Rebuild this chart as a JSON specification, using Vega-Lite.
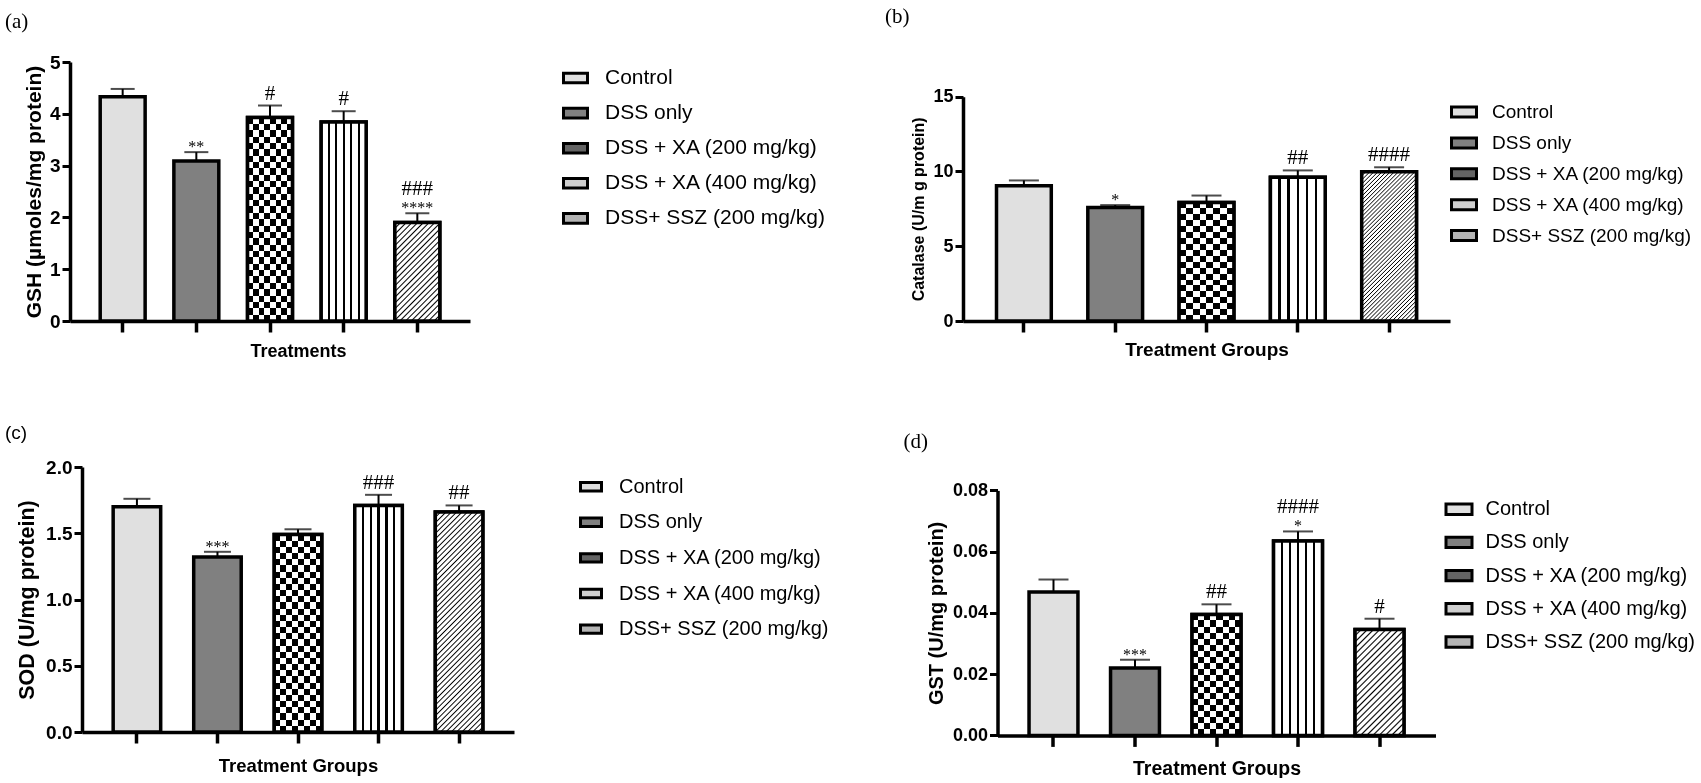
{
  "$schema": "https://vega.github.io/schema/vega-lite/v6.json",
  "background": "white",
  "padding": {"left": 5, "top": 5, "right": 0, "bottom": 0},
  "datasets": {
    "gsh": [
      {"group": "Control", "mean": 4.33, "upper": 4.48, "star": "", "hash": ""},
      {"group": "DSS only", "mean": 3.09, "upper": 3.26, "star": "**", "hash": ""},
      {"group": "DSS + XA (200 mg/kg)", "mean": 3.93, "upper": 4.16, "star": "", "hash": "#"},
      {"group": "DSS + XA (400 mg/kg)", "mean": 3.84, "upper": 4.05, "star": "", "hash": "#"},
      {"group": "DSS+ SSZ (200 mg/kg)", "mean": 1.90, "upper": 2.08, "star": "****", "hash": "###"}
    ],
    "cat": [
      {"group": "Control", "mean": 9.04, "upper": 9.40, "star": "", "hash": ""},
      {"group": "DSS only", "mean": 7.59, "upper": 7.75, "star": "*", "hash": ""},
      {"group": "DSS + XA (200 mg/kg)", "mean": 7.92, "upper": 8.39, "star": "", "hash": ""},
      {"group": "DSS + XA (400 mg/kg)", "mean": 9.62, "upper": 10.07, "star": "", "hash": "##"},
      {"group": "DSS+ SSZ (200 mg/kg)", "mean": 9.98, "upper": 10.28, "star": "", "hash": "####"}
    ],
    "sod": [
      {"group": "Control", "mean": 1.70, "upper": 1.76, "star": "", "hash": ""},
      {"group": "DSS only", "mean": 1.32, "upper": 1.36, "star": "***", "hash": ""},
      {"group": "DSS + XA (200 mg/kg)", "mean": 1.49, "upper": 1.53, "star": "", "hash": ""},
      {"group": "DSS + XA (400 mg/kg)", "mean": 1.71, "upper": 1.79, "star": "", "hash": "###"},
      {"group": "DSS+ SSZ (200 mg/kg)", "mean": 1.66, "upper": 1.71, "star": "", "hash": "##"}
    ],
    "gst": [
      {"group": "Control", "mean": 0.0468, "upper": 0.0509, "star": "", "hash": ""},
      {"group": "DSS only", "mean": 0.0220, "upper": 0.0247, "star": "***", "hash": ""},
      {"group": "DSS + XA (200 mg/kg)", "mean": 0.0395, "upper": 0.0428, "star": "", "hash": "##"},
      {"group": "DSS + XA (400 mg/kg)", "mean": 0.0635, "upper": 0.0666, "star": "*", "hash": "####"},
      {"group": "DSS+ SSZ (200 mg/kg)", "mean": 0.0346, "upper": 0.0381, "star": "", "hash": "#"}
    ]
  },
  "spacing": 63,
  "resolve": {"scale": {"fill": "independent"}, "legend": {"fill": "independent"}},
  "vconcat": [
    {
      "spacing": 60,
      "resolve": {"scale": {"fill": "independent"}, "legend": {"fill": "independent"}},
      "hconcat": [
        {
          "width": 400, "height": 259,
          "title": {"text": "(a)", "anchor": "start", "frame": "group", "dx": -65, "offset": 21, "font": "Liberation Serif", "fontSize": 21, "fontWeight": "normal"},
          "data": {"name": "gsh"},
          "encoding": {
            "x": {"field": "group", "type": "nominal", "sort": null,
              "scale": {"domain": ["Control", "DSS only", "DSS + XA (200 mg/kg)", "DSS + XA (400 mg/kg)", "DSS+ SSZ (200 mg/kg)"], "paddingInner": 0.39, "paddingOuter": 0.41},
              "axis": {"labels": false, "title": "Treatments", "titleFontSize": 18, "titlePadding": 9, "titleX": 228, "domainWidth": 3.5, "tickWidth": 3.5, "tickSize": 11}}
          },
          "layer": [
            {
              "mark": {"type": "bar", "stroke": "black", "strokeWidth": 3.5},
              "encoding": {
                "y": {"field": "mean", "type": "quantitative", "scale": {"domain": [0, 5], "nice": false},
                  "axis": {"title": "GSH (µmoles/mg protein)", "values": [0, 1, 2, 3, 4, 5], "format": "d", "labelFontSize": 19, "titleFontSize": 21, "domainWidth": 3.5, "tickWidth": 3, "tickSize": 8, "labelPadding": 2, "titlePadding": 5}},
                "fill": {"field": "group", "type": "nominal",
                  "scale": {"domain": ["Control", "DSS only", "DSS + XA (200 mg/kg)", "DSS + XA (400 mg/kg)", "DSS+ SSZ (200 mg/kg)"], "range": ["#e0e0e0", "#808080", "#646464", "#cfcfcf", "#b4b4b4"]},
                  "legend": {"title": null, "legendX": 492, "legendY": 2.5, "symbolType": "M-1,-0.4H1V0.4H-1Z", "symbolSize": 576, "labelFontSize": 21, "labelLimit": 400, "rowPadding": 10.1, "labelOffset": 16,
                    "encode": {"symbols": {"update": {"stroke": {"value": "black"}, "strokeWidth": {"value": 3}}}}}}
              }
            },
            {
              "transform": [{"filter": "datum.group === 'DSS + XA (200 mg/kg)'"}],
              "mark": {"type": "bar", "strokeWidth": 0, "fill": {"gradient": "linear", "x1": 0, "y1": 0, "x2": 0, "y2": 1, "stops": [
                {"offset": 0, "color": "#fff"}, {"offset": 0.03125, "color": "#fff"}, {"offset": 0.03125, "color": "#000"}, {"offset": 0.0625, "color": "#000"},
                {"offset": 0.0625, "color": "#fff"}, {"offset": 0.09375, "color": "#fff"}, {"offset": 0.09375, "color": "#000"}, {"offset": 0.125, "color": "#000"},
                {"offset": 0.125, "color": "#fff"}, {"offset": 0.15625, "color": "#fff"}, {"offset": 0.15625, "color": "#000"}, {"offset": 0.1875, "color": "#000"},
                {"offset": 0.1875, "color": "#fff"}, {"offset": 0.21875, "color": "#fff"}, {"offset": 0.21875, "color": "#000"}, {"offset": 0.25, "color": "#000"},
                {"offset": 0.25, "color": "#fff"}, {"offset": 0.28125, "color": "#fff"}, {"offset": 0.28125, "color": "#000"}, {"offset": 0.3125, "color": "#000"},
                {"offset": 0.3125, "color": "#fff"}, {"offset": 0.34375, "color": "#fff"}, {"offset": 0.34375, "color": "#000"}, {"offset": 0.375, "color": "#000"},
                {"offset": 0.375, "color": "#fff"}, {"offset": 0.40625, "color": "#fff"}, {"offset": 0.40625, "color": "#000"}, {"offset": 0.4375, "color": "#000"},
                {"offset": 0.4375, "color": "#fff"}, {"offset": 0.46875, "color": "#fff"}, {"offset": 0.46875, "color": "#000"}, {"offset": 0.5, "color": "#000"},
                {"offset": 0.5, "color": "#fff"}, {"offset": 0.53125, "color": "#fff"}, {"offset": 0.53125, "color": "#000"}, {"offset": 0.5625, "color": "#000"},
                {"offset": 0.5625, "color": "#fff"}, {"offset": 0.59375, "color": "#fff"}, {"offset": 0.59375, "color": "#000"}, {"offset": 0.625, "color": "#000"},
                {"offset": 0.625, "color": "#fff"}, {"offset": 0.65625, "color": "#fff"}, {"offset": 0.65625, "color": "#000"}, {"offset": 0.6875, "color": "#000"},
                {"offset": 0.6875, "color": "#fff"}, {"offset": 0.71875, "color": "#fff"}, {"offset": 0.71875, "color": "#000"}, {"offset": 0.75, "color": "#000"},
                {"offset": 0.75, "color": "#fff"}, {"offset": 0.78125, "color": "#fff"}, {"offset": 0.78125, "color": "#000"}, {"offset": 0.8125, "color": "#000"},
                {"offset": 0.8125, "color": "#fff"}, {"offset": 0.84375, "color": "#fff"}, {"offset": 0.84375, "color": "#000"}, {"offset": 0.875, "color": "#000"},
                {"offset": 0.875, "color": "#fff"}, {"offset": 0.90625, "color": "#fff"}, {"offset": 0.90625, "color": "#000"}, {"offset": 0.9375, "color": "#000"},
                {"offset": 0.9375, "color": "#fff"}, {"offset": 0.96875, "color": "#fff"}, {"offset": 0.96875, "color": "#000"}, {"offset": 1, "color": "#000"}]}},
              "encoding": {"y": {"field": "mean", "type": "quantitative"}}
            },
            {
              "transform": [{"filter": "datum.group === 'DSS + XA (200 mg/kg)'"}],
              "mark": {"type": "bar", "strokeWidth": 0, "blend": "difference", "fill": {"gradient": "linear", "x1": 0, "y1": 0, "x2": 1, "y2": 0, "stops": [
                {"offset": 0, "color": "#fff"}, {"offset": 0.125, "color": "#fff"}, {"offset": 0.125, "color": "#000"}, {"offset": 0.25, "color": "#000"},
                {"offset": 0.25, "color": "#fff"}, {"offset": 0.375, "color": "#fff"}, {"offset": 0.375, "color": "#000"}, {"offset": 0.5, "color": "#000"},
                {"offset": 0.5, "color": "#fff"}, {"offset": 0.625, "color": "#fff"}, {"offset": 0.625, "color": "#000"}, {"offset": 0.75, "color": "#000"},
                {"offset": 0.75, "color": "#fff"}, {"offset": 0.875, "color": "#fff"}, {"offset": 0.875, "color": "#000"}, {"offset": 1, "color": "#000"}]}},
              "encoding": {"y": {"field": "mean", "type": "quantitative"}}
            },
            {
              "transform": [{"filter": "datum.group === 'DSS + XA (200 mg/kg)'"}],
              "mark": {"type": "bar", "fill": "transparent", "stroke": "black", "strokeWidth": 3.5},
              "encoding": {"y": {"field": "mean", "type": "quantitative"}}
            },
            {
              "transform": [{"filter": "datum.group === 'DSS + XA (400 mg/kg)' || datum.group === 'DSS+ SSZ (200 mg/kg)'"}],
              "mark": {"type": "bar", "stroke": "black", "strokeWidth": 3.5},
              "encoding": {
                "y": {"field": "mean", "type": "quantitative"},
                "fill": {
                  "condition": {"test": "datum.group === 'DSS + XA (400 mg/kg)'", "value": {"gradient": "linear", "x1": 0, "y1": 0, "x2": 1, "y2": 0, "stops": [
                        {"offset": 0, "color": "#fff"},
                        {"offset": 0.145, "color": "#fff"}, {"offset": 0.145, "color": "#000"}, {"offset": 0.189, "color": "#000"}, {"offset": 0.189, "color": "#fff"},
                        {"offset": 0.311, "color": "#fff"}, {"offset": 0.311, "color": "#000"}, {"offset": 0.355, "color": "#000"}, {"offset": 0.355, "color": "#fff"},
                        {"offset": 0.478, "color": "#fff"}, {"offset": 0.478, "color": "#000"}, {"offset": 0.522, "color": "#000"}, {"offset": 0.522, "color": "#fff"},
                        {"offset": 0.645, "color": "#fff"}, {"offset": 0.645, "color": "#000"}, {"offset": 0.689, "color": "#000"}, {"offset": 0.689, "color": "#fff"},
                        {"offset": 0.811, "color": "#fff"}, {"offset": 0.811, "color": "#000"}, {"offset": 0.855, "color": "#000"}, {"offset": 0.855, "color": "#fff"},
                        {"offset": 1, "color": "#fff"}]}},
                  "value": {"gradient": "linear", "x1": 0, "y1": 0, "x2": 0.554, "y2": 1.205, "stops": [
                        {"offset": 0, "color": "#000"}, {"offset": 0.01, "color": "#fff"}, {"offset": 0.03, "color": "#fff"},
                        {"offset": 0.04, "color": "#000"}, {"offset": 0.05, "color": "#fff"}, {"offset": 0.07, "color": "#fff"},
                        {"offset": 0.08, "color": "#000"}, {"offset": 0.09, "color": "#fff"}, {"offset": 0.11, "color": "#fff"},
                        {"offset": 0.12, "color": "#000"}, {"offset": 0.13, "color": "#fff"}, {"offset": 0.15, "color": "#fff"},
                        {"offset": 0.16, "color": "#000"}, {"offset": 0.17, "color": "#fff"}, {"offset": 0.19, "color": "#fff"},
                        {"offset": 0.20, "color": "#000"}, {"offset": 0.21, "color": "#fff"}, {"offset": 0.23, "color": "#fff"},
                        {"offset": 0.24, "color": "#000"}, {"offset": 0.25, "color": "#fff"}, {"offset": 0.27, "color": "#fff"},
                        {"offset": 0.28, "color": "#000"}, {"offset": 0.29, "color": "#fff"}, {"offset": 0.31, "color": "#fff"},
                        {"offset": 0.32, "color": "#000"}, {"offset": 0.33, "color": "#fff"}, {"offset": 0.35, "color": "#fff"},
                        {"offset": 0.36, "color": "#000"}, {"offset": 0.37, "color": "#fff"}, {"offset": 0.39, "color": "#fff"},
                        {"offset": 0.40, "color": "#000"}, {"offset": 0.41, "color": "#fff"}, {"offset": 0.43, "color": "#fff"},
                        {"offset": 0.44, "color": "#000"}, {"offset": 0.45, "color": "#fff"}, {"offset": 0.47, "color": "#fff"},
                        {"offset": 0.48, "color": "#000"}, {"offset": 0.49, "color": "#fff"}, {"offset": 0.51, "color": "#fff"},
                        {"offset": 0.52, "color": "#000"}, {"offset": 0.53, "color": "#fff"}, {"offset": 0.55, "color": "#fff"},
                        {"offset": 0.56, "color": "#000"}, {"offset": 0.57, "color": "#fff"}, {"offset": 0.59, "color": "#fff"},
                        {"offset": 0.60, "color": "#000"}, {"offset": 0.61, "color": "#fff"}, {"offset": 0.63, "color": "#fff"},
                        {"offset": 0.64, "color": "#000"}, {"offset": 0.65, "color": "#fff"}, {"offset": 0.67, "color": "#fff"},
                        {"offset": 0.68, "color": "#000"}, {"offset": 0.69, "color": "#fff"}, {"offset": 0.71, "color": "#fff"},
                        {"offset": 0.72, "color": "#000"}, {"offset": 0.73, "color": "#fff"}, {"offset": 0.75, "color": "#fff"},
                        {"offset": 0.76, "color": "#000"}, {"offset": 0.77, "color": "#fff"}, {"offset": 0.79, "color": "#fff"},
                        {"offset": 0.80, "color": "#000"}, {"offset": 0.81, "color": "#fff"}, {"offset": 0.83, "color": "#fff"},
                        {"offset": 0.84, "color": "#000"}, {"offset": 0.85, "color": "#fff"}, {"offset": 0.87, "color": "#fff"},
                        {"offset": 0.88, "color": "#000"}, {"offset": 0.89, "color": "#fff"}, {"offset": 0.91, "color": "#fff"},
                        {"offset": 0.92, "color": "#000"}, {"offset": 0.93, "color": "#fff"}, {"offset": 0.95, "color": "#fff"},
                        {"offset": 0.96, "color": "#000"}, {"offset": 0.97, "color": "#fff"}, {"offset": 0.99, "color": "#fff"},
                        {"offset": 1, "color": "#000"}]}
                }
              }
            },
            {"mark": {"type": "rule", "color": "black", "strokeWidth": 2},
              "encoding": {"y": {"field": "mean", "type": "quantitative"}, "y2": {"field": "upper"}}},
            {"mark": {"type": "tick", "color": "black", "thickness": 2, "size": 24},
              "encoding": {"y": {"field": "upper", "type": "quantitative"}}},
            {"mark": {"type": "text", "font": "Liberation Serif", "fontSize": 16, "baseline": "alphabetic", "color": "black", "dy": 0},
              "encoding": {"y": {"field": "upper", "type": "quantitative"}, "text": {"field": "star", "type": "nominal"}}},
            {"transform": [{"filter": "datum.star === ''"}],
              "mark": {"type": "text", "font": "Liberation Serif", "fontSize": 21, "baseline": "alphabetic", "color": "black", "dy": -6},
              "encoding": {"y": {"field": "upper", "type": "quantitative"}, "text": {"field": "hash", "type": "nominal"}}},
            {"transform": [{"filter": "datum.star !== ''"}],
              "mark": {"type": "text", "font": "Liberation Serif", "fontSize": 21, "baseline": "alphabetic", "color": "black", "dy": -18},
              "encoding": {"y": {"field": "upper", "type": "quantitative"}, "text": {"field": "hash", "type": "nominal"}}}
          ]
        },
        {
          "width": 487, "height": 259,
          "title": {"text": "(b)", "anchor": "start", "frame": "group", "dx": -78, "offset": 35.5, "font": "Liberation Serif", "fontSize": 21, "fontWeight": "normal"},
          "data": {"name": "cat"},
          "encoding": {
            "x": {"field": "group", "type": "nominal", "sort": null,
              "scale": {"domain": ["Control", "DSS only", "DSS + XA (200 mg/kg)", "DSS + XA (400 mg/kg)", "DSS+ SSZ (200 mg/kg)"], "paddingInner": 0.40, "paddingOuter": 0.367},
              "axis": {"labels": false, "title": "Treatment Groups", "titleFontSize": 19, "titlePadding": 7, "domainWidth": 3.5, "tickWidth": 3.5, "tickSize": 11}}
          },
          "layer": [
            {
              "mark": {"type": "bar", "stroke": "black", "strokeWidth": 3.5},
              "encoding": {
                "y": {"field": "mean", "type": "quantitative", "scale": {"domain": [0, 15], "range": [259, 34.7], "nice": false},
                  "axis": {"title": "Catalase (U/m g protein)", "values": [0, 5, 10, 15], "format": "d", "labelFontSize": 18, "titleFontSize": 16, "domainWidth": 3.5, "tickWidth": 3, "tickSize": 8, "labelPadding": 2, "titlePadding": 6}},
                "fill": {"field": "group", "type": "nominal",
                  "scale": {"domain": ["Control", "DSS only", "DSS + XA (200 mg/kg)", "DSS + XA (400 mg/kg)", "DSS+ SSZ (200 mg/kg)"], "range": ["#e0e0e0", "#808080", "#646464", "#cfcfcf", "#b4b4b4"]},
                  "legend": {"title": null, "legendX": 487, "legendY": 36, "symbolType": "M-1,-0.4H1V0.4H-1Z", "symbolSize": 625, "labelFontSize": 19, "labelLimit": 400, "rowPadding": 5.9, "labelOffset": 14,
                    "encode": {"symbols": {"update": {"stroke": {"value": "black"}, "strokeWidth": {"value": 3}}}}}}
              }
            },
            {
              "transform": [{"filter": "datum.group === 'DSS + XA (200 mg/kg)'"}],
              "mark": {"type": "bar", "strokeWidth": 0, "fill": {"gradient": "linear", "x1": 0, "y1": 0, "x2": 0, "y2": 1, "stops": [
                {"offset": 0, "color": "#fff"}, {"offset": 0.05, "color": "#fff"}, {"offset": 0.05, "color": "#000"}, {"offset": 0.1, "color": "#000"},
                {"offset": 0.1, "color": "#fff"}, {"offset": 0.15, "color": "#fff"}, {"offset": 0.15, "color": "#000"}, {"offset": 0.2, "color": "#000"},
                {"offset": 0.2, "color": "#fff"}, {"offset": 0.25, "color": "#fff"}, {"offset": 0.25, "color": "#000"}, {"offset": 0.3, "color": "#000"},
                {"offset": 0.3, "color": "#fff"}, {"offset": 0.35, "color": "#fff"}, {"offset": 0.35, "color": "#000"}, {"offset": 0.4, "color": "#000"},
                {"offset": 0.4, "color": "#fff"}, {"offset": 0.45, "color": "#fff"}, {"offset": 0.45, "color": "#000"}, {"offset": 0.5, "color": "#000"},
                {"offset": 0.5, "color": "#fff"}, {"offset": 0.55, "color": "#fff"}, {"offset": 0.55, "color": "#000"}, {"offset": 0.6, "color": "#000"},
                {"offset": 0.6, "color": "#fff"}, {"offset": 0.65, "color": "#fff"}, {"offset": 0.65, "color": "#000"}, {"offset": 0.7, "color": "#000"},
                {"offset": 0.7, "color": "#fff"}, {"offset": 0.75, "color": "#fff"}, {"offset": 0.75, "color": "#000"}, {"offset": 0.8, "color": "#000"},
                {"offset": 0.8, "color": "#fff"}, {"offset": 0.85, "color": "#fff"}, {"offset": 0.85, "color": "#000"}, {"offset": 0.9, "color": "#000"},
                {"offset": 0.9, "color": "#fff"}, {"offset": 0.95, "color": "#fff"}, {"offset": 0.95, "color": "#000"}, {"offset": 1, "color": "#000"}]}},
              "encoding": {"y": {"field": "mean", "type": "quantitative"}}
            },
            {
              "transform": [{"filter": "datum.group === 'DSS + XA (200 mg/kg)'"}],
              "mark": {"type": "bar", "strokeWidth": 0, "blend": "difference", "fill": {"gradient": "linear", "x1": 0, "y1": 0, "x2": 1, "y2": 0, "stops": [
                {"offset": 0, "color": "#fff"}, {"offset": 0.125, "color": "#fff"}, {"offset": 0.125, "color": "#000"}, {"offset": 0.25, "color": "#000"},
                {"offset": 0.25, "color": "#fff"}, {"offset": 0.375, "color": "#fff"}, {"offset": 0.375, "color": "#000"}, {"offset": 0.5, "color": "#000"},
                {"offset": 0.5, "color": "#fff"}, {"offset": 0.625, "color": "#fff"}, {"offset": 0.625, "color": "#000"}, {"offset": 0.75, "color": "#000"},
                {"offset": 0.75, "color": "#fff"}, {"offset": 0.875, "color": "#fff"}, {"offset": 0.875, "color": "#000"}, {"offset": 1, "color": "#000"}]}},
              "encoding": {"y": {"field": "mean", "type": "quantitative"}}
            },
            {
              "transform": [{"filter": "datum.group === 'DSS + XA (200 mg/kg)'"}],
              "mark": {"type": "bar", "fill": "transparent", "stroke": "black", "strokeWidth": 3.5},
              "encoding": {"y": {"field": "mean", "type": "quantitative"}}
            },
            {
              "transform": [{"filter": "datum.group === 'DSS + XA (400 mg/kg)' || datum.group === 'DSS+ SSZ (200 mg/kg)'"}],
              "mark": {"type": "bar", "stroke": "black", "strokeWidth": 3.5},
              "encoding": {
                "y": {"field": "mean", "type": "quantitative"},
                "fill": {
                  "condition": {"test": "datum.group === 'DSS + XA (400 mg/kg)'", "value": {"gradient": "linear", "x1": 0, "y1": 0, "x2": 1, "y2": 0, "stops": [
                        {"offset": 0, "color": "#fff"},
                        {"offset": 0.145, "color": "#fff"}, {"offset": 0.145, "color": "#000"}, {"offset": 0.189, "color": "#000"}, {"offset": 0.189, "color": "#fff"},
                        {"offset": 0.311, "color": "#fff"}, {"offset": 0.311, "color": "#000"}, {"offset": 0.355, "color": "#000"}, {"offset": 0.355, "color": "#fff"},
                        {"offset": 0.478, "color": "#fff"}, {"offset": 0.478, "color": "#000"}, {"offset": 0.522, "color": "#000"}, {"offset": 0.522, "color": "#fff"},
                        {"offset": 0.645, "color": "#fff"}, {"offset": 0.645, "color": "#000"}, {"offset": 0.689, "color": "#000"}, {"offset": 0.689, "color": "#fff"},
                        {"offset": 0.811, "color": "#fff"}, {"offset": 0.811, "color": "#000"}, {"offset": 0.855, "color": "#000"}, {"offset": 0.855, "color": "#fff"},
                        {"offset": 1, "color": "#fff"}]}},
                  "value": {"gradient": "linear", "x1": 0, "y1": 0, "x2": 0.441, "y2": 1.205, "stops": [
                        {"offset": 0, "color": "#000"}, {"offset": 0.005, "color": "#fff"}, {"offset": 0.015, "color": "#fff"},
                        {"offset": 0.02, "color": "#000"}, {"offset": 0.025, "color": "#fff"}, {"offset": 0.035, "color": "#fff"},
                        {"offset": 0.04, "color": "#000"}, {"offset": 0.045, "color": "#fff"}, {"offset": 0.055, "color": "#fff"},
                        {"offset": 0.06, "color": "#000"}, {"offset": 0.065, "color": "#fff"}, {"offset": 0.075, "color": "#fff"},
                        {"offset": 0.08, "color": "#000"}, {"offset": 0.085, "color": "#fff"}, {"offset": 0.095, "color": "#fff"},
                        {"offset": 0.10, "color": "#000"}, {"offset": 0.105, "color": "#fff"}, {"offset": 0.115, "color": "#fff"},
                        {"offset": 0.12, "color": "#000"}, {"offset": 0.125, "color": "#fff"}, {"offset": 0.135, "color": "#fff"},
                        {"offset": 0.14, "color": "#000"}, {"offset": 0.145, "color": "#fff"}, {"offset": 0.155, "color": "#fff"},
                        {"offset": 0.16, "color": "#000"}, {"offset": 0.165, "color": "#fff"}, {"offset": 0.175, "color": "#fff"},
                        {"offset": 0.18, "color": "#000"}, {"offset": 0.185, "color": "#fff"}, {"offset": 0.195, "color": "#fff"},
                        {"offset": 0.20, "color": "#000"}, {"offset": 0.205, "color": "#fff"}, {"offset": 0.215, "color": "#fff"},
                        {"offset": 0.22, "color": "#000"}, {"offset": 0.225, "color": "#fff"}, {"offset": 0.235, "color": "#fff"},
                        {"offset": 0.24, "color": "#000"}, {"offset": 0.245, "color": "#fff"}, {"offset": 0.255, "color": "#fff"},
                        {"offset": 0.26, "color": "#000"}, {"offset": 0.265, "color": "#fff"}, {"offset": 0.275, "color": "#fff"},
                        {"offset": 0.28, "color": "#000"}, {"offset": 0.285, "color": "#fff"}, {"offset": 0.295, "color": "#fff"},
                        {"offset": 0.30, "color": "#000"}, {"offset": 0.305, "color": "#fff"}, {"offset": 0.315, "color": "#fff"},
                        {"offset": 0.32, "color": "#000"}, {"offset": 0.325, "color": "#fff"}, {"offset": 0.335, "color": "#fff"},
                        {"offset": 0.34, "color": "#000"}, {"offset": 0.345, "color": "#fff"}, {"offset": 0.355, "color": "#fff"},
                        {"offset": 0.36, "color": "#000"}, {"offset": 0.365, "color": "#fff"}, {"offset": 0.375, "color": "#fff"},
                        {"offset": 0.38, "color": "#000"}, {"offset": 0.385, "color": "#fff"}, {"offset": 0.395, "color": "#fff"},
                        {"offset": 0.40, "color": "#000"}, {"offset": 0.405, "color": "#fff"}, {"offset": 0.415, "color": "#fff"},
                        {"offset": 0.42, "color": "#000"}, {"offset": 0.425, "color": "#fff"}, {"offset": 0.435, "color": "#fff"},
                        {"offset": 0.44, "color": "#000"}, {"offset": 0.445, "color": "#fff"}, {"offset": 0.455, "color": "#fff"},
                        {"offset": 0.46, "color": "#000"}, {"offset": 0.465, "color": "#fff"}, {"offset": 0.475, "color": "#fff"},
                        {"offset": 0.48, "color": "#000"}, {"offset": 0.485, "color": "#fff"}, {"offset": 0.495, "color": "#fff"},
                        {"offset": 0.50, "color": "#000"}, {"offset": 0.505, "color": "#fff"}, {"offset": 0.515, "color": "#fff"},
                        {"offset": 0.52, "color": "#000"}, {"offset": 0.525, "color": "#fff"}, {"offset": 0.535, "color": "#fff"},
                        {"offset": 0.54, "color": "#000"}, {"offset": 0.545, "color": "#fff"}, {"offset": 0.555, "color": "#fff"},
                        {"offset": 0.56, "color": "#000"}, {"offset": 0.565, "color": "#fff"}, {"offset": 0.575, "color": "#fff"},
                        {"offset": 0.58, "color": "#000"}, {"offset": 0.585, "color": "#fff"}, {"offset": 0.595, "color": "#fff"},
                        {"offset": 0.60, "color": "#000"}, {"offset": 0.605, "color": "#fff"}, {"offset": 0.615, "color": "#fff"},
                        {"offset": 0.62, "color": "#000"}, {"offset": 0.625, "color": "#fff"}, {"offset": 0.635, "color": "#fff"},
                        {"offset": 0.64, "color": "#000"}, {"offset": 0.645, "color": "#fff"}, {"offset": 0.655, "color": "#fff"},
                        {"offset": 0.66, "color": "#000"}, {"offset": 0.665, "color": "#fff"}, {"offset": 0.675, "color": "#fff"},
                        {"offset": 0.68, "color": "#000"}, {"offset": 0.685, "color": "#fff"}, {"offset": 0.695, "color": "#fff"},
                        {"offset": 0.70, "color": "#000"}, {"offset": 0.705, "color": "#fff"}, {"offset": 0.715, "color": "#fff"},
                        {"offset": 0.72, "color": "#000"}, {"offset": 0.725, "color": "#fff"}, {"offset": 0.735, "color": "#fff"},
                        {"offset": 0.74, "color": "#000"}, {"offset": 0.745, "color": "#fff"}, {"offset": 0.755, "color": "#fff"},
                        {"offset": 0.76, "color": "#000"}, {"offset": 0.765, "color": "#fff"}, {"offset": 0.775, "color": "#fff"},
                        {"offset": 0.78, "color": "#000"}, {"offset": 0.785, "color": "#fff"}, {"offset": 0.795, "color": "#fff"},
                        {"offset": 0.80, "color": "#000"}, {"offset": 0.805, "color": "#fff"}, {"offset": 0.815, "color": "#fff"},
                        {"offset": 0.82, "color": "#000"}, {"offset": 0.825, "color": "#fff"}, {"offset": 0.835, "color": "#fff"},
                        {"offset": 0.84, "color": "#000"}, {"offset": 0.845, "color": "#fff"}, {"offset": 0.855, "color": "#fff"},
                        {"offset": 0.86, "color": "#000"}, {"offset": 0.865, "color": "#fff"}, {"offset": 0.875, "color": "#fff"},
                        {"offset": 0.88, "color": "#000"}, {"offset": 0.885, "color": "#fff"}, {"offset": 0.895, "color": "#fff"},
                        {"offset": 0.90, "color": "#000"}, {"offset": 0.905, "color": "#fff"}, {"offset": 0.915, "color": "#fff"},
                        {"offset": 0.92, "color": "#000"}, {"offset": 0.925, "color": "#fff"}, {"offset": 0.935, "color": "#fff"},
                        {"offset": 0.94, "color": "#000"}, {"offset": 0.945, "color": "#fff"}, {"offset": 0.955, "color": "#fff"},
                        {"offset": 0.96, "color": "#000"}, {"offset": 0.965, "color": "#fff"}, {"offset": 0.975, "color": "#fff"},
                        {"offset": 0.98, "color": "#000"}, {"offset": 0.985, "color": "#fff"}, {"offset": 0.995, "color": "#fff"},
                        {"offset": 1, "color": "#000"}]}
                }
              }
            },
            {"mark": {"type": "rule", "color": "black", "strokeWidth": 2},
              "encoding": {"y": {"field": "mean", "type": "quantitative"}, "y2": {"field": "upper"}}},
            {"mark": {"type": "tick", "color": "black", "thickness": 2, "size": 30},
              "encoding": {"y": {"field": "upper", "type": "quantitative"}}},
            {"mark": {"type": "text", "font": "Liberation Serif", "fontSize": 16, "baseline": "alphabetic", "color": "black", "dy": 0},
              "encoding": {"y": {"field": "upper", "type": "quantitative"}, "text": {"field": "star", "type": "nominal"}}},
            {"transform": [{"filter": "datum.star === ''"}],
              "mark": {"type": "text", "font": "Liberation Serif", "fontSize": 21, "baseline": "alphabetic", "color": "black", "dy": -6},
              "encoding": {"y": {"field": "upper", "type": "quantitative"}, "text": {"field": "hash", "type": "nominal"}}},
            {"transform": [{"filter": "datum.star !== ''"}],
              "mark": {"type": "text", "font": "Liberation Serif", "fontSize": 21, "baseline": "alphabetic", "color": "black", "dy": -18},
              "encoding": {"y": {"field": "upper", "type": "quantitative"}, "text": {"field": "hash", "type": "nominal"}}}
          ]
        }
      ]
    },
    {
      "spacing": 74.5,
      "resolve": {"scale": {"fill": "independent"}, "legend": {"fill": "independent"}},
      "hconcat": [
        {
          "width": 444, "height": 265,
          "title": {"text": "(c)", "anchor": "start", "frame": "group", "dx": -65, "offset": 15, "font": "Liberation Sans", "fontSize": 19, "fontWeight": "normal"},
          "data": {"name": "sod"},
          "encoding": {
            "x": {"field": "group", "type": "nominal", "sort": null,
              "scale": {"domain": ["Control", "DSS only", "DSS + XA (200 mg/kg)", "DSS + XA (400 mg/kg)", "DSS+ SSZ (200 mg/kg)"], "range": [12, 444], "paddingInner": 0.41, "paddingOuter": 0.387},
              "axis": {"labels": false, "title": "Treatment Groups", "titleFontSize": 18.5, "titlePadding": 12, "domainWidth": 3.5, "tickWidth": 3.5, "tickSize": 11}}
          },
          "layer": [
            {
              "mark": {"type": "bar", "stroke": "black", "strokeWidth": 3.5},
              "encoding": {
                "y": {"field": "mean", "type": "quantitative", "scale": {"domain": [0, 2], "nice": false},
                  "axis": {"title": "SOD (U/mg protein)", "offset": -12, "values": [0, 0.5, 1, 1.5, 2], "format": ".1f", "labelFontSize": 19, "titleFontSize": 21.5, "domainWidth": 3.5, "tickWidth": 3, "tickSize": 8, "labelPadding": 2, "titlePadding": 7}},
                "fill": {"field": "group", "type": "nominal",
                  "scale": {"domain": ["Control", "DSS only", "DSS + XA (200 mg/kg)", "DSS + XA (400 mg/kg)", "DSS+ SSZ (200 mg/kg)"], "range": ["#e0e0e0", "#808080", "#646464", "#cfcfcf", "#b4b4b4"]},
                  "legend": {"title": null, "legendX": 509, "legendY": 7.7, "symbolType": "M-1,-0.4H1V0.4H-1Z", "symbolSize": 441, "labelFontSize": 20, "labelLimit": 400, "rowPadding": 12.6, "labelOffset": 16,
                    "encode": {"symbols": {"update": {"stroke": {"value": "black"}, "strokeWidth": {"value": 3}}}}}}
              }
            },
            {
              "transform": [{"filter": "datum.group === 'DSS + XA (200 mg/kg)'"}],
              "mark": {"type": "bar", "strokeWidth": 0, "fill": {"gradient": "linear", "x1": 0, "y1": 0, "x2": 0, "y2": 1, "stops": [
                {"offset": 0, "color": "#fff"}, {"offset": 0.03125, "color": "#fff"}, {"offset": 0.03125, "color": "#000"}, {"offset": 0.0625, "color": "#000"},
                {"offset": 0.0625, "color": "#fff"}, {"offset": 0.09375, "color": "#fff"}, {"offset": 0.09375, "color": "#000"}, {"offset": 0.125, "color": "#000"},
                {"offset": 0.125, "color": "#fff"}, {"offset": 0.15625, "color": "#fff"}, {"offset": 0.15625, "color": "#000"}, {"offset": 0.1875, "color": "#000"},
                {"offset": 0.1875, "color": "#fff"}, {"offset": 0.21875, "color": "#fff"}, {"offset": 0.21875, "color": "#000"}, {"offset": 0.25, "color": "#000"},
                {"offset": 0.25, "color": "#fff"}, {"offset": 0.28125, "color": "#fff"}, {"offset": 0.28125, "color": "#000"}, {"offset": 0.3125, "color": "#000"},
                {"offset": 0.3125, "color": "#fff"}, {"offset": 0.34375, "color": "#fff"}, {"offset": 0.34375, "color": "#000"}, {"offset": 0.375, "color": "#000"},
                {"offset": 0.375, "color": "#fff"}, {"offset": 0.40625, "color": "#fff"}, {"offset": 0.40625, "color": "#000"}, {"offset": 0.4375, "color": "#000"},
                {"offset": 0.4375, "color": "#fff"}, {"offset": 0.46875, "color": "#fff"}, {"offset": 0.46875, "color": "#000"}, {"offset": 0.5, "color": "#000"},
                {"offset": 0.5, "color": "#fff"}, {"offset": 0.53125, "color": "#fff"}, {"offset": 0.53125, "color": "#000"}, {"offset": 0.5625, "color": "#000"},
                {"offset": 0.5625, "color": "#fff"}, {"offset": 0.59375, "color": "#fff"}, {"offset": 0.59375, "color": "#000"}, {"offset": 0.625, "color": "#000"},
                {"offset": 0.625, "color": "#fff"}, {"offset": 0.65625, "color": "#fff"}, {"offset": 0.65625, "color": "#000"}, {"offset": 0.6875, "color": "#000"},
                {"offset": 0.6875, "color": "#fff"}, {"offset": 0.71875, "color": "#fff"}, {"offset": 0.71875, "color": "#000"}, {"offset": 0.75, "color": "#000"},
                {"offset": 0.75, "color": "#fff"}, {"offset": 0.78125, "color": "#fff"}, {"offset": 0.78125, "color": "#000"}, {"offset": 0.8125, "color": "#000"},
                {"offset": 0.8125, "color": "#fff"}, {"offset": 0.84375, "color": "#fff"}, {"offset": 0.84375, "color": "#000"}, {"offset": 0.875, "color": "#000"},
                {"offset": 0.875, "color": "#fff"}, {"offset": 0.90625, "color": "#fff"}, {"offset": 0.90625, "color": "#000"}, {"offset": 0.9375, "color": "#000"},
                {"offset": 0.9375, "color": "#fff"}, {"offset": 0.96875, "color": "#fff"}, {"offset": 0.96875, "color": "#000"}, {"offset": 1, "color": "#000"}]}},
              "encoding": {"y": {"field": "mean", "type": "quantitative"}}
            },
            {
              "transform": [{"filter": "datum.group === 'DSS + XA (200 mg/kg)'"}],
              "mark": {"type": "bar", "strokeWidth": 0, "blend": "difference", "fill": {"gradient": "linear", "x1": 0, "y1": 0, "x2": 1, "y2": 0, "stops": [
                {"offset": 0, "color": "#fff"}, {"offset": 0.125, "color": "#fff"}, {"offset": 0.125, "color": "#000"}, {"offset": 0.25, "color": "#000"},
                {"offset": 0.25, "color": "#fff"}, {"offset": 0.375, "color": "#fff"}, {"offset": 0.375, "color": "#000"}, {"offset": 0.5, "color": "#000"},
                {"offset": 0.5, "color": "#fff"}, {"offset": 0.625, "color": "#fff"}, {"offset": 0.625, "color": "#000"}, {"offset": 0.75, "color": "#000"},
                {"offset": 0.75, "color": "#fff"}, {"offset": 0.875, "color": "#fff"}, {"offset": 0.875, "color": "#000"}, {"offset": 1, "color": "#000"}]}},
              "encoding": {"y": {"field": "mean", "type": "quantitative"}}
            },
            {
              "transform": [{"filter": "datum.group === 'DSS + XA (200 mg/kg)'"}],
              "mark": {"type": "bar", "fill": "transparent", "stroke": "black", "strokeWidth": 3.5},
              "encoding": {"y": {"field": "mean", "type": "quantitative"}}
            },
            {
              "transform": [{"filter": "datum.group === 'DSS + XA (400 mg/kg)' || datum.group === 'DSS+ SSZ (200 mg/kg)'"}],
              "mark": {"type": "bar", "stroke": "black", "strokeWidth": 3.5},
              "encoding": {
                "y": {"field": "mean", "type": "quantitative"},
                "fill": {
                  "condition": {"test": "datum.group === 'DSS + XA (400 mg/kg)'", "value": {"gradient": "linear", "x1": 0, "y1": 0, "x2": 1, "y2": 0, "stops": [
                        {"offset": 0, "color": "#fff"},
                        {"offset": 0.145, "color": "#fff"}, {"offset": 0.145, "color": "#000"}, {"offset": 0.189, "color": "#000"}, {"offset": 0.189, "color": "#fff"},
                        {"offset": 0.311, "color": "#fff"}, {"offset": 0.311, "color": "#000"}, {"offset": 0.355, "color": "#000"}, {"offset": 0.355, "color": "#fff"},
                        {"offset": 0.478, "color": "#fff"}, {"offset": 0.478, "color": "#000"}, {"offset": 0.522, "color": "#000"}, {"offset": 0.522, "color": "#fff"},
                        {"offset": 0.645, "color": "#fff"}, {"offset": 0.645, "color": "#000"}, {"offset": 0.689, "color": "#000"}, {"offset": 0.689, "color": "#fff"},
                        {"offset": 0.811, "color": "#fff"}, {"offset": 0.811, "color": "#000"}, {"offset": 0.855, "color": "#000"}, {"offset": 0.855, "color": "#fff"},
                        {"offset": 1, "color": "#fff"}]}},
                  "value": {"gradient": "linear", "x1": 0, "y1": 0, "x2": 0.252, "y2": 1.164, "stops": [
                        {"offset": 0, "color": "#000"}, {"offset": 0.005, "color": "#fff"}, {"offset": 0.015, "color": "#fff"},
                        {"offset": 0.02, "color": "#000"}, {"offset": 0.025, "color": "#fff"}, {"offset": 0.035, "color": "#fff"},
                        {"offset": 0.04, "color": "#000"}, {"offset": 0.045, "color": "#fff"}, {"offset": 0.055, "color": "#fff"},
                        {"offset": 0.06, "color": "#000"}, {"offset": 0.065, "color": "#fff"}, {"offset": 0.075, "color": "#fff"},
                        {"offset": 0.08, "color": "#000"}, {"offset": 0.085, "color": "#fff"}, {"offset": 0.095, "color": "#fff"},
                        {"offset": 0.10, "color": "#000"}, {"offset": 0.105, "color": "#fff"}, {"offset": 0.115, "color": "#fff"},
                        {"offset": 0.12, "color": "#000"}, {"offset": 0.125, "color": "#fff"}, {"offset": 0.135, "color": "#fff"},
                        {"offset": 0.14, "color": "#000"}, {"offset": 0.145, "color": "#fff"}, {"offset": 0.155, "color": "#fff"},
                        {"offset": 0.16, "color": "#000"}, {"offset": 0.165, "color": "#fff"}, {"offset": 0.175, "color": "#fff"},
                        {"offset": 0.18, "color": "#000"}, {"offset": 0.185, "color": "#fff"}, {"offset": 0.195, "color": "#fff"},
                        {"offset": 0.20, "color": "#000"}, {"offset": 0.205, "color": "#fff"}, {"offset": 0.215, "color": "#fff"},
                        {"offset": 0.22, "color": "#000"}, {"offset": 0.225, "color": "#fff"}, {"offset": 0.235, "color": "#fff"},
                        {"offset": 0.24, "color": "#000"}, {"offset": 0.245, "color": "#fff"}, {"offset": 0.255, "color": "#fff"},
                        {"offset": 0.26, "color": "#000"}, {"offset": 0.265, "color": "#fff"}, {"offset": 0.275, "color": "#fff"},
                        {"offset": 0.28, "color": "#000"}, {"offset": 0.285, "color": "#fff"}, {"offset": 0.295, "color": "#fff"},
                        {"offset": 0.30, "color": "#000"}, {"offset": 0.305, "color": "#fff"}, {"offset": 0.315, "color": "#fff"},
                        {"offset": 0.32, "color": "#000"}, {"offset": 0.325, "color": "#fff"}, {"offset": 0.335, "color": "#fff"},
                        {"offset": 0.34, "color": "#000"}, {"offset": 0.345, "color": "#fff"}, {"offset": 0.355, "color": "#fff"},
                        {"offset": 0.36, "color": "#000"}, {"offset": 0.365, "color": "#fff"}, {"offset": 0.375, "color": "#fff"},
                        {"offset": 0.38, "color": "#000"}, {"offset": 0.385, "color": "#fff"}, {"offset": 0.395, "color": "#fff"},
                        {"offset": 0.40, "color": "#000"}, {"offset": 0.405, "color": "#fff"}, {"offset": 0.415, "color": "#fff"},
                        {"offset": 0.42, "color": "#000"}, {"offset": 0.425, "color": "#fff"}, {"offset": 0.435, "color": "#fff"},
                        {"offset": 0.44, "color": "#000"}, {"offset": 0.445, "color": "#fff"}, {"offset": 0.455, "color": "#fff"},
                        {"offset": 0.46, "color": "#000"}, {"offset": 0.465, "color": "#fff"}, {"offset": 0.475, "color": "#fff"},
                        {"offset": 0.48, "color": "#000"}, {"offset": 0.485, "color": "#fff"}, {"offset": 0.495, "color": "#fff"},
                        {"offset": 0.50, "color": "#000"}, {"offset": 0.505, "color": "#fff"}, {"offset": 0.515, "color": "#fff"},
                        {"offset": 0.52, "color": "#000"}, {"offset": 0.525, "color": "#fff"}, {"offset": 0.535, "color": "#fff"},
                        {"offset": 0.54, "color": "#000"}, {"offset": 0.545, "color": "#fff"}, {"offset": 0.555, "color": "#fff"},
                        {"offset": 0.56, "color": "#000"}, {"offset": 0.565, "color": "#fff"}, {"offset": 0.575, "color": "#fff"},
                        {"offset": 0.58, "color": "#000"}, {"offset": 0.585, "color": "#fff"}, {"offset": 0.595, "color": "#fff"},
                        {"offset": 0.60, "color": "#000"}, {"offset": 0.605, "color": "#fff"}, {"offset": 0.615, "color": "#fff"},
                        {"offset": 0.62, "color": "#000"}, {"offset": 0.625, "color": "#fff"}, {"offset": 0.635, "color": "#fff"},
                        {"offset": 0.64, "color": "#000"}, {"offset": 0.645, "color": "#fff"}, {"offset": 0.655, "color": "#fff"},
                        {"offset": 0.66, "color": "#000"}, {"offset": 0.665, "color": "#fff"}, {"offset": 0.675, "color": "#fff"},
                        {"offset": 0.68, "color": "#000"}, {"offset": 0.685, "color": "#fff"}, {"offset": 0.695, "color": "#fff"},
                        {"offset": 0.70, "color": "#000"}, {"offset": 0.705, "color": "#fff"}, {"offset": 0.715, "color": "#fff"},
                        {"offset": 0.72, "color": "#000"}, {"offset": 0.725, "color": "#fff"}, {"offset": 0.735, "color": "#fff"},
                        {"offset": 0.74, "color": "#000"}, {"offset": 0.745, "color": "#fff"}, {"offset": 0.755, "color": "#fff"},
                        {"offset": 0.76, "color": "#000"}, {"offset": 0.765, "color": "#fff"}, {"offset": 0.775, "color": "#fff"},
                        {"offset": 0.78, "color": "#000"}, {"offset": 0.785, "color": "#fff"}, {"offset": 0.795, "color": "#fff"},
                        {"offset": 0.80, "color": "#000"}, {"offset": 0.805, "color": "#fff"}, {"offset": 0.815, "color": "#fff"},
                        {"offset": 0.82, "color": "#000"}, {"offset": 0.825, "color": "#fff"}, {"offset": 0.835, "color": "#fff"},
                        {"offset": 0.84, "color": "#000"}, {"offset": 0.845, "color": "#fff"}, {"offset": 0.855, "color": "#fff"},
                        {"offset": 0.86, "color": "#000"}, {"offset": 0.865, "color": "#fff"}, {"offset": 0.875, "color": "#fff"},
                        {"offset": 0.88, "color": "#000"}, {"offset": 0.885, "color": "#fff"}, {"offset": 0.895, "color": "#fff"},
                        {"offset": 0.90, "color": "#000"}, {"offset": 0.905, "color": "#fff"}, {"offset": 0.915, "color": "#fff"},
                        {"offset": 0.92, "color": "#000"}, {"offset": 0.925, "color": "#fff"}, {"offset": 0.935, "color": "#fff"},
                        {"offset": 0.94, "color": "#000"}, {"offset": 0.945, "color": "#fff"}, {"offset": 0.955, "color": "#fff"},
                        {"offset": 0.96, "color": "#000"}, {"offset": 0.965, "color": "#fff"}, {"offset": 0.975, "color": "#fff"},
                        {"offset": 0.98, "color": "#000"}, {"offset": 0.985, "color": "#fff"}, {"offset": 0.995, "color": "#fff"},
                        {"offset": 1, "color": "#000"}]}
                }
              }
            },
            {"mark": {"type": "rule", "color": "black", "strokeWidth": 2},
              "encoding": {"y": {"field": "mean", "type": "quantitative"}, "y2": {"field": "upper"}}},
            {"mark": {"type": "tick", "color": "black", "thickness": 2, "size": 27},
              "encoding": {"y": {"field": "upper", "type": "quantitative"}}},
            {"mark": {"type": "text", "font": "Liberation Serif", "fontSize": 16, "baseline": "alphabetic", "color": "black", "dy": 0},
              "encoding": {"y": {"field": "upper", "type": "quantitative"}, "text": {"field": "star", "type": "nominal"}}},
            {"transform": [{"filter": "datum.star === ''"}],
              "mark": {"type": "text", "font": "Liberation Serif", "fontSize": 21, "baseline": "alphabetic", "color": "black", "dy": -6},
              "encoding": {"y": {"field": "upper", "type": "quantitative"}, "text": {"field": "hash", "type": "nominal"}}},
            {"transform": [{"filter": "datum.star !== ''"}],
              "mark": {"type": "text", "font": "Liberation Serif", "fontSize": 21, "baseline": "alphabetic", "color": "black", "dy": -18},
              "encoding": {"y": {"field": "upper", "type": "quantitative"}, "text": {"field": "hash", "type": "nominal"}}}
          ]
        },
        {
          "width": 438, "height": 268.4,
          "title": {"text": "(d)", "anchor": "start", "frame": "group", "dx": -94, "offset": 15.5, "font": "Liberation Serif", "fontSize": 21, "fontWeight": "normal"},
          "data": {"name": "gst"},
          "encoding": {
            "x": {"field": "group", "type": "nominal", "sort": null,
              "scale": {"domain": ["Control", "DSS only", "DSS + XA (200 mg/kg)", "DSS + XA (400 mg/kg)", "DSS+ SSZ (200 mg/kg)"], "paddingInner": 0.40, "paddingOuter": 0.387},
              "axis": {"labels": false, "title": "Treatment Groups", "titleFontSize": 19.5, "titlePadding": 11, "domainWidth": 3.5, "tickWidth": 3.5, "tickSize": 11}}
          },
          "layer": [
            {
              "mark": {"type": "bar", "stroke": "black", "strokeWidth": 3.5},
              "encoding": {
                "y": {"field": "mean", "type": "quantitative", "scale": {"domain": [0, 0.08], "range": [268.4, 23.4], "nice": false},
                  "axis": {"title": "GST (U/mg protein)", "values": [0, 0.02, 0.04, 0.06, 0.08], "format": ".2f", "labelFontSize": 18, "titleFontSize": 20, "domainWidth": 3.5, "tickWidth": 3, "tickSize": 8, "labelPadding": 2, "titlePadding": 6}},
                "fill": {"field": "group", "type": "nominal",
                  "scale": {"domain": ["Control", "DSS only", "DSS + XA (200 mg/kg)", "DSS + XA (400 mg/kg)", "DSS+ SSZ (200 mg/kg)"], "range": ["#e0e0e0", "#808080", "#646464", "#cfcfcf", "#b4b4b4"]},
                  "legend": {"title": null, "legendX": 447, "legendY": 27.7, "symbolType": "M-1,-0.4H1V0.4H-1Z", "symbolSize": 676, "labelFontSize": 20, "labelLimit": 400, "rowPadding": 7.2, "labelOffset": 12,
                    "encode": {"symbols": {"update": {"stroke": {"value": "black"}, "strokeWidth": {"value": 3}}}}}}
              }
            },
            {
              "transform": [{"filter": "datum.group === 'DSS + XA (200 mg/kg)'"}],
              "mark": {"type": "bar", "strokeWidth": 0, "fill": {"gradient": "linear", "x1": 0, "y1": 0, "x2": 0, "y2": 1, "stops": [
                {"offset": 0, "color": "#fff"}, {"offset": 0.05, "color": "#fff"}, {"offset": 0.05, "color": "#000"}, {"offset": 0.1, "color": "#000"},
                {"offset": 0.1, "color": "#fff"}, {"offset": 0.15, "color": "#fff"}, {"offset": 0.15, "color": "#000"}, {"offset": 0.2, "color": "#000"},
                {"offset": 0.2, "color": "#fff"}, {"offset": 0.25, "color": "#fff"}, {"offset": 0.25, "color": "#000"}, {"offset": 0.3, "color": "#000"},
                {"offset": 0.3, "color": "#fff"}, {"offset": 0.35, "color": "#fff"}, {"offset": 0.35, "color": "#000"}, {"offset": 0.4, "color": "#000"},
                {"offset": 0.4, "color": "#fff"}, {"offset": 0.45, "color": "#fff"}, {"offset": 0.45, "color": "#000"}, {"offset": 0.5, "color": "#000"},
                {"offset": 0.5, "color": "#fff"}, {"offset": 0.55, "color": "#fff"}, {"offset": 0.55, "color": "#000"}, {"offset": 0.6, "color": "#000"},
                {"offset": 0.6, "color": "#fff"}, {"offset": 0.65, "color": "#fff"}, {"offset": 0.65, "color": "#000"}, {"offset": 0.7, "color": "#000"},
                {"offset": 0.7, "color": "#fff"}, {"offset": 0.75, "color": "#fff"}, {"offset": 0.75, "color": "#000"}, {"offset": 0.8, "color": "#000"},
                {"offset": 0.8, "color": "#fff"}, {"offset": 0.85, "color": "#fff"}, {"offset": 0.85, "color": "#000"}, {"offset": 0.9, "color": "#000"},
                {"offset": 0.9, "color": "#fff"}, {"offset": 0.95, "color": "#fff"}, {"offset": 0.95, "color": "#000"}, {"offset": 1, "color": "#000"}]}},
              "encoding": {"y": {"field": "mean", "type": "quantitative"}}
            },
            {
              "transform": [{"filter": "datum.group === 'DSS + XA (200 mg/kg)'"}],
              "mark": {"type": "bar", "strokeWidth": 0, "blend": "difference", "fill": {"gradient": "linear", "x1": 0, "y1": 0, "x2": 1, "y2": 0, "stops": [
                {"offset": 0, "color": "#fff"}, {"offset": 0.125, "color": "#fff"}, {"offset": 0.125, "color": "#000"}, {"offset": 0.25, "color": "#000"},
                {"offset": 0.25, "color": "#fff"}, {"offset": 0.375, "color": "#fff"}, {"offset": 0.375, "color": "#000"}, {"offset": 0.5, "color": "#000"},
                {"offset": 0.5, "color": "#fff"}, {"offset": 0.625, "color": "#fff"}, {"offset": 0.625, "color": "#000"}, {"offset": 0.75, "color": "#000"},
                {"offset": 0.75, "color": "#fff"}, {"offset": 0.875, "color": "#fff"}, {"offset": 0.875, "color": "#000"}, {"offset": 1, "color": "#000"}]}},
              "encoding": {"y": {"field": "mean", "type": "quantitative"}}
            },
            {
              "transform": [{"filter": "datum.group === 'DSS + XA (200 mg/kg)'"}],
              "mark": {"type": "bar", "fill": "transparent", "stroke": "black", "strokeWidth": 3.5},
              "encoding": {"y": {"field": "mean", "type": "quantitative"}}
            },
            {
              "transform": [{"filter": "datum.group === 'DSS + XA (400 mg/kg)' || datum.group === 'DSS+ SSZ (200 mg/kg)'"}],
              "mark": {"type": "bar", "stroke": "black", "strokeWidth": 3.5},
              "encoding": {
                "y": {"field": "mean", "type": "quantitative"},
                "fill": {
                  "condition": {"test": "datum.group === 'DSS + XA (400 mg/kg)'", "value": {"gradient": "linear", "x1": 0, "y1": 0, "x2": 1, "y2": 0, "stops": [
                        {"offset": 0, "color": "#fff"},
                        {"offset": 0.145, "color": "#fff"}, {"offset": 0.145, "color": "#000"}, {"offset": 0.189, "color": "#000"}, {"offset": 0.189, "color": "#fff"},
                        {"offset": 0.311, "color": "#fff"}, {"offset": 0.311, "color": "#000"}, {"offset": 0.355, "color": "#000"}, {"offset": 0.355, "color": "#fff"},
                        {"offset": 0.478, "color": "#fff"}, {"offset": 0.478, "color": "#000"}, {"offset": 0.522, "color": "#000"}, {"offset": 0.522, "color": "#fff"},
                        {"offset": 0.645, "color": "#fff"}, {"offset": 0.645, "color": "#000"}, {"offset": 0.689, "color": "#000"}, {"offset": 0.689, "color": "#fff"},
                        {"offset": 0.811, "color": "#fff"}, {"offset": 0.811, "color": "#000"}, {"offset": 0.855, "color": "#000"}, {"offset": 0.855, "color": "#fff"},
                        {"offset": 1, "color": "#fff"}]}},
                  "value": {"gradient": "linear", "x1": 0, "y1": 0, "x2": 0.554, "y2": 1.205, "stops": [
                        {"offset": 0, "color": "#000"}, {"offset": 0.01, "color": "#fff"}, {"offset": 0.03, "color": "#fff"},
                        {"offset": 0.04, "color": "#000"}, {"offset": 0.05, "color": "#fff"}, {"offset": 0.07, "color": "#fff"},
                        {"offset": 0.08, "color": "#000"}, {"offset": 0.09, "color": "#fff"}, {"offset": 0.11, "color": "#fff"},
                        {"offset": 0.12, "color": "#000"}, {"offset": 0.13, "color": "#fff"}, {"offset": 0.15, "color": "#fff"},
                        {"offset": 0.16, "color": "#000"}, {"offset": 0.17, "color": "#fff"}, {"offset": 0.19, "color": "#fff"},
                        {"offset": 0.20, "color": "#000"}, {"offset": 0.21, "color": "#fff"}, {"offset": 0.23, "color": "#fff"},
                        {"offset": 0.24, "color": "#000"}, {"offset": 0.25, "color": "#fff"}, {"offset": 0.27, "color": "#fff"},
                        {"offset": 0.28, "color": "#000"}, {"offset": 0.29, "color": "#fff"}, {"offset": 0.31, "color": "#fff"},
                        {"offset": 0.32, "color": "#000"}, {"offset": 0.33, "color": "#fff"}, {"offset": 0.35, "color": "#fff"},
                        {"offset": 0.36, "color": "#000"}, {"offset": 0.37, "color": "#fff"}, {"offset": 0.39, "color": "#fff"},
                        {"offset": 0.40, "color": "#000"}, {"offset": 0.41, "color": "#fff"}, {"offset": 0.43, "color": "#fff"},
                        {"offset": 0.44, "color": "#000"}, {"offset": 0.45, "color": "#fff"}, {"offset": 0.47, "color": "#fff"},
                        {"offset": 0.48, "color": "#000"}, {"offset": 0.49, "color": "#fff"}, {"offset": 0.51, "color": "#fff"},
                        {"offset": 0.52, "color": "#000"}, {"offset": 0.53, "color": "#fff"}, {"offset": 0.55, "color": "#fff"},
                        {"offset": 0.56, "color": "#000"}, {"offset": 0.57, "color": "#fff"}, {"offset": 0.59, "color": "#fff"},
                        {"offset": 0.60, "color": "#000"}, {"offset": 0.61, "color": "#fff"}, {"offset": 0.63, "color": "#fff"},
                        {"offset": 0.64, "color": "#000"}, {"offset": 0.65, "color": "#fff"}, {"offset": 0.67, "color": "#fff"},
                        {"offset": 0.68, "color": "#000"}, {"offset": 0.69, "color": "#fff"}, {"offset": 0.71, "color": "#fff"},
                        {"offset": 0.72, "color": "#000"}, {"offset": 0.73, "color": "#fff"}, {"offset": 0.75, "color": "#fff"},
                        {"offset": 0.76, "color": "#000"}, {"offset": 0.77, "color": "#fff"}, {"offset": 0.79, "color": "#fff"},
                        {"offset": 0.80, "color": "#000"}, {"offset": 0.81, "color": "#fff"}, {"offset": 0.83, "color": "#fff"},
                        {"offset": 0.84, "color": "#000"}, {"offset": 0.85, "color": "#fff"}, {"offset": 0.87, "color": "#fff"},
                        {"offset": 0.88, "color": "#000"}, {"offset": 0.89, "color": "#fff"}, {"offset": 0.91, "color": "#fff"},
                        {"offset": 0.92, "color": "#000"}, {"offset": 0.93, "color": "#fff"}, {"offset": 0.95, "color": "#fff"},
                        {"offset": 0.96, "color": "#000"}, {"offset": 0.97, "color": "#fff"}, {"offset": 0.99, "color": "#fff"},
                        {"offset": 1, "color": "#000"}]}
                }
              }
            },
            {"mark": {"type": "rule", "color": "black", "strokeWidth": 2},
              "encoding": {"y": {"field": "mean", "type": "quantitative"}, "y2": {"field": "upper"}}},
            {"mark": {"type": "tick", "color": "black", "thickness": 2, "size": 30},
              "encoding": {"y": {"field": "upper", "type": "quantitative"}}},
            {"mark": {"type": "text", "font": "Liberation Serif", "fontSize": 16, "baseline": "alphabetic", "color": "black", "dy": 0},
              "encoding": {"y": {"field": "upper", "type": "quantitative"}, "text": {"field": "star", "type": "nominal"}}},
            {"transform": [{"filter": "datum.star === ''"}],
              "mark": {"type": "text", "font": "Liberation Serif", "fontSize": 21, "baseline": "alphabetic", "color": "black", "dy": -6},
              "encoding": {"y": {"field": "upper", "type": "quantitative"}, "text": {"field": "hash", "type": "nominal"}}},
            {"transform": [{"filter": "datum.star !== ''"}],
              "mark": {"type": "text", "font": "Liberation Serif", "fontSize": 21, "baseline": "alphabetic", "color": "black", "dy": -18},
              "encoding": {"y": {"field": "upper", "type": "quantitative"}, "text": {"field": "hash", "type": "nominal"}}}
          ]
        }
      ]
    }
  ],
  "config": {
    "view": {"stroke": null},
    "font": "Liberation Sans",
    "axis": {"grid": false, "domainColor": "black", "tickColor": "black", "labelColor": "black", "titleColor": "black", "labelFont": "Liberation Sans", "titleFont": "Liberation Sans", "labelFontWeight": "bold", "titleFontWeight": "bold"},
    "legend": {"orient": "none", "padding": 0, "symbolStrokeColor": "black", "symbolStrokeWidth": 3, "symbolOpacity": 1, "labelFont": "Liberation Sans", "labelColor": "black"},
    "title": {"color": "black"}
  }
}
